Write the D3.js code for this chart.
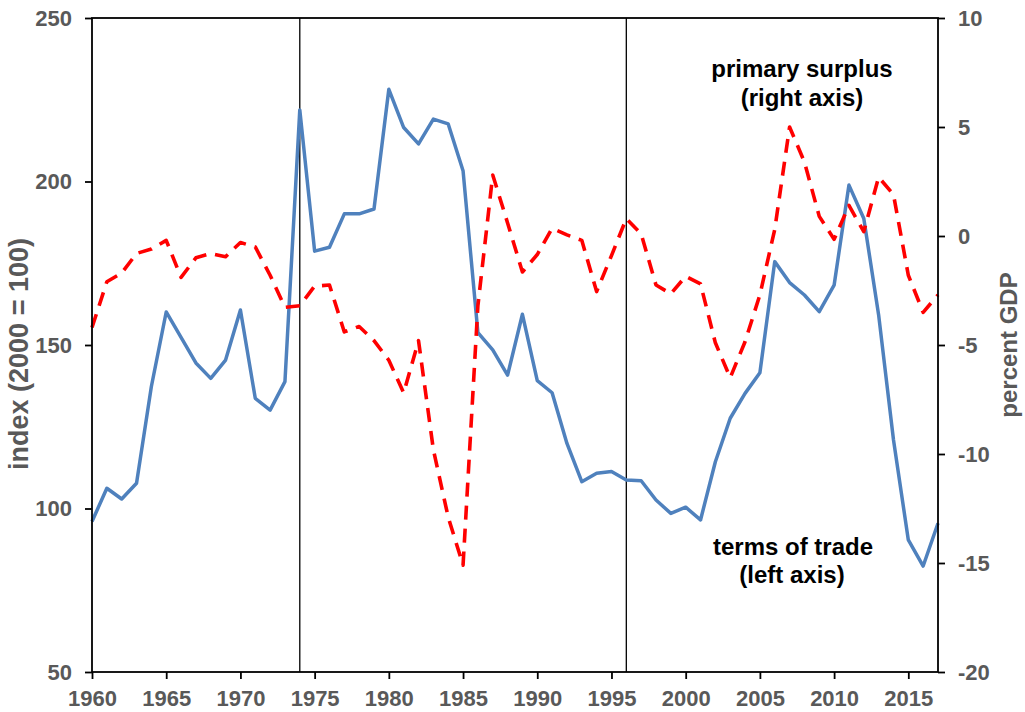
<!DOCTYPE html>
<html>
<head>
<meta charset="utf-8">
<script src="https://cdn.jsdelivr.net/npm/d3@7"></script>
<style>
  html, body { margin: 0; padding: 0; background: #fff; }
  svg { display: block; }
  .tick text { font-family: "Liberation Sans", Arial, sans-serif; font-weight: bold; font-size: 22px; fill: #595959; }
</style>
</head>
<body>
<svg id="chart" width="1025" height="712"></svg>
<script>
const years = [1960,1961,1962,1963,1964,1965,1966,1967,1968,1969,
  1970,1971,1972,1973,1974,1975,1976,1977,1978,1979,
  1980,1981,1982,1983,1984,1985,1986,1987,1988,1989,
  1990,1991,1992,1993,1994,1995,1996,1997,1998,1999,
  2000,2001,2002,2003,2004,2005,2006,2007,2008,2009,
  2010,2011,2012,2013,2014,2015,2016,2017];

const termsOfTrade = [96,106.2,102.9,107.7,137.3,160.1,152.3,144.5,139.8,145.4,
  160.7,133.7,130.1,138.8,221.9,178.7,179.9,190.1,190.1,191.6,
  228.2,216.5,211.5,219.1,217.6,203.3,153.8,148.5,140.8,159.4,
  139.1,135.4,119.9,108.2,110.8,111.3,108.7,108.5,102.6,98.5,
  100.4,96.5,114.3,127.6,135.2,141.5,175.5,169.1,165.3,160.2,
  168.3,198.9,188.7,159.2,121,90.4,82.4,95.5];

const primarySurplus = [-4.2,-2.1,-1.7,-0.8,-0.6,-0.2,-1.9,-1.0,-0.8,-0.95,
  -0.3,-0.5,-1.8,-3.27,-3.2,-2.3,-2.25,-4.4,-4.15,-4.8,
  -5.7,-7.2,-4.8,-9.8,-12.9,-15.1,-3.2,2.8,0.6,-1.65,
  -0.85,0.35,0.05,-0.2,-2.55,-0.9,0.8,0.1,-2.25,-2.65,
  -1.85,-2.2,-4.9,-6.5,-4.85,-2.7,0.3,5.0,3.4,0.9,
  -0.15,1.4,0.2,2.7,1.9,-1.8,-3.5,-2.7];

const xTicks = [1960,1965,1970,1975,1980,1985,1990,1995,2000,2005,2010,2015];
const leftTicks = [50,100,150,200,250];
const rightTicks = [-20,-15,-10,-5,0,5,10];
const markerYears = [1974,1996];

const svg = d3.select("#chart");
const L = 92, R = 938, T = 18, B = 672;

const x = d3.scaleLinear().domain([1960, 2017]).range([L, R]);
const yL = d3.scaleLinear().domain([50, 250]).range([B, T]);
const yR = d3.scaleLinear().domain([-20, 10]).range([B, T]);

svg.append("rect").attr("width", 1025).attr("height", 712).attr("fill", "#fff");

// vertical markers
svg.selectAll("line.marker").data(markerYears).enter().append("line")
  .attr("class", "marker")
  .attr("x1", d => x(d)).attr("x2", d => x(d))
  .attr("y1", T).attr("y2", B)
  .attr("stroke", "#000").attr("stroke-width", 1.3);

// series
const lineR = d3.line().x((d, i) => x(years[i])).y(d => yR(d));
const lineL = d3.line().x((d, i) => x(years[i])).y(d => yL(d));

svg.append("path").datum(termsOfTrade)
  .attr("d", lineL).attr("fill", "none")
  .attr("stroke", "#4F81BD").attr("stroke-width", 3.5)
  .attr("stroke-linejoin", "round");

svg.append("path").datum(primarySurplus)
  .attr("d", lineR).attr("fill", "none")
  .attr("stroke", "#FF0000").attr("stroke-width", 3.6)
  .attr("stroke-dasharray", "14,9")
  .attr("stroke-linejoin", "round");

// frame
svg.append("rect").attr("x", L).attr("y", T).attr("width", R - L).attr("height", B - T)
  .attr("fill", "none").attr("stroke", "#000").attr("stroke-width", 1.8);

// axes
const gx = svg.append("g").attr("transform", `translate(0,${B})`)
  .call(d3.axisBottom(x).tickValues(xTicks).tickFormat(d => String(d)).tickSize(7).tickSizeOuter(0).tickPadding(11));
const gl = svg.append("g").attr("transform", `translate(${L},0)`)
  .call(d3.axisLeft(yL).tickValues(leftTicks).tickFormat(d => String(d)).tickSize(7).tickSizeOuter(0).tickPadding(13));
const gr = svg.append("g").attr("transform", `translate(${R},0)`)
  .call(d3.axisRight(yR).tickValues(rightTicks).tickFormat(d => String(d)).tickSize(7).tickSizeOuter(0).tickPadding(13));

[gx, gl, gr].forEach(g => {
  g.select(".domain").remove();
  g.selectAll(".tick line").attr("stroke", "#000").attr("stroke-width", 1.8);
});

// axis titles
svg.append("text")
  .attr("transform", "translate(28,354) rotate(-90)")
  .attr("text-anchor", "middle")
  .attr("font-family", "Liberation Sans, Arial, sans-serif")
  .attr("font-weight", "bold").attr("font-size", 27).attr("fill", "#595959")
  .text("index (2000 = 100)");

svg.append("text")
  .attr("transform", "translate(1017,345) rotate(-90)")
  .attr("text-anchor", "middle")
  .attr("font-family", "Liberation Sans, Arial, sans-serif")
  .attr("font-weight", "bold").attr("font-size", 24).attr("fill", "#595959")
  .text("percent GDP");

// annotations
const ann = [
  {t: "primary surplus", x: 802, y: 77},
  {t: "(right axis)", x: 802, y: 106},
  {t: "terms of trade", x: 793, y: 555},
  {t: "(left axis)", x: 792, y: 583}
];
svg.selectAll("text.ann").data(ann).enter().append("text")
  .attr("class", "ann")
  .attr("x", d => d.x).attr("y", d => d.y)
  .attr("text-anchor", "middle")
  .attr("font-family", "Liberation Sans, Arial, sans-serif")
  .attr("font-weight", "bold").attr("font-size", 24).attr("fill", "#000")
  .text(d => d.t);
</script>
</body>
</html>
